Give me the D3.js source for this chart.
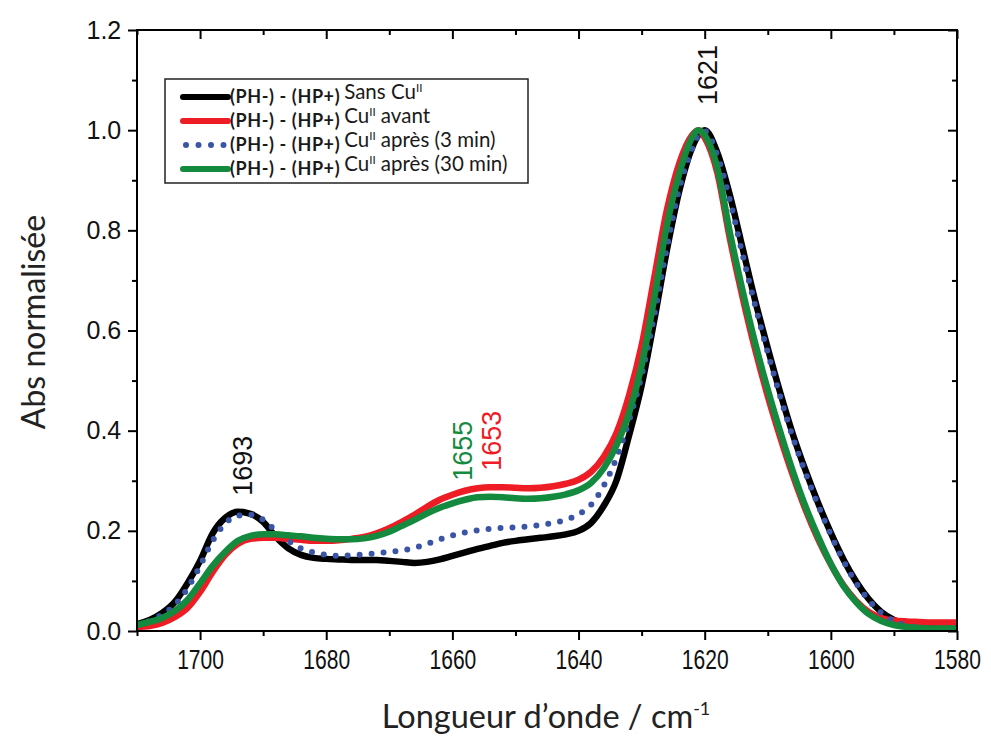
<!DOCTYPE html>
<html>
<head>
<meta charset="utf-8">
<script src="https://cdn.jsdelivr.net/npm/d3@7/dist/d3.min.js"></script>
<style>
  html, body { margin: 0; padding: 0; background: #fff; }
  svg { display: block; }
</style>
</head>
<body>
<svg id="chart" width="991" height="740"></svg>
<script>
// ---------------- DATA ----------------
const wavenumbers = [1710,1708,1706,1704,1702,1700,1698,1696,1694,1692,1690,1688,1686,1684,1682,1680,1678,1676,1674,1672,1670,1668,1666,1664,1662,1660,1658,1656,1654,1652,1650,1648,1646,1644,1642,1640,1638,1636,1634,1632,1630,1628,1626,1624,1622,1621,1620,1618,1616,1614,1612,1610,1608,1606,1604,1602,1600,1598,1596,1594,1592,1590,1588,1586,1584,1582,1580];

const sansCu = [0.014,0.022,0.036,0.058,0.095,0.14,0.195,0.226,0.238,0.234,0.218,0.188,0.165,0.152,0.146,0.144,0.143,0.142,0.142,0.142,0.14,0.138,0.136,0.138,0.143,0.15,0.157,0.164,0.17,0.176,0.18,0.183,0.186,0.189,0.193,0.2,0.216,0.25,0.3,0.39,0.49,0.62,0.76,0.88,0.965,0.99,1.0,0.955,0.87,0.765,0.66,0.565,0.475,0.392,0.32,0.255,0.196,0.143,0.099,0.064,0.038,0.022,0.012,0.008,0.006,0.005,0.005];

const cuAvant = [0.008,0.01,0.016,0.028,0.046,0.078,0.118,0.152,0.174,0.184,0.186,0.186,0.184,0.182,0.18,0.18,0.181,0.184,0.188,0.195,0.205,0.218,0.232,0.248,0.262,0.272,0.28,0.285,0.287,0.287,0.286,0.285,0.286,0.289,0.294,0.302,0.318,0.348,0.395,0.47,0.57,0.705,0.84,0.935,0.99,1.0,0.985,0.915,0.783,0.667,0.562,0.469,0.386,0.31,0.242,0.183,0.133,0.091,0.06,0.038,0.026,0.021,0.019,0.018,0.017,0.017,0.017];

const cuApres3 = [0.012,0.02,0.033,0.052,0.085,0.13,0.18,0.215,0.23,0.232,0.222,0.2,0.18,0.165,0.157,0.152,0.15,0.151,0.153,0.155,0.158,0.161,0.166,0.174,0.183,0.191,0.197,0.201,0.204,0.206,0.207,0.209,0.212,0.216,0.222,0.233,0.252,0.29,0.345,0.42,0.51,0.63,0.765,0.885,0.962,0.99,0.998,0.95,0.86,0.752,0.65,0.556,0.467,0.386,0.315,0.251,0.192,0.14,0.096,0.062,0.036,0.02,0.011,0.007,0.005,0.005,0.005];

const cuApres30 = [0.012,0.018,0.026,0.04,0.062,0.095,0.13,0.158,0.18,0.19,0.193,0.193,0.191,0.189,0.186,0.184,0.183,0.183,0.185,0.19,0.198,0.21,0.222,0.235,0.246,0.255,0.262,0.267,0.268,0.267,0.265,0.264,0.265,0.268,0.273,0.281,0.296,0.325,0.37,0.435,0.53,0.665,0.81,0.915,0.985,1.0,0.99,0.925,0.795,0.68,0.575,0.482,0.397,0.318,0.248,0.188,0.134,0.09,0.058,0.034,0.02,0.012,0.008,0.006,0.005,0.005,0.005];

const seriesNames = ["Sans Cu", "Cu", "Cu", "Cu"];
const seriesSuffix = ["", " avant", " après (3 min)", " après (30 min)"];
const seriesColors = ["#000000", "#ee1c25", "#3b55a6", "#148a3f"];

const xTicksMajor = [1700, 1680, 1660, 1640, 1620, 1600, 1580];
const xTicksMinor = [1710, 1690, 1670, 1650, 1630, 1610, 1590];
const yTicksMajor = [0.0, 0.2, 0.4, 0.6, 0.8, 1.0, 1.2];
const yTicksMinor = [0.1, 0.3, 0.5, 0.7, 0.9, 1.1];

const peakLabels = ["1693", "1655", "1653", "1621"];
const peakLabelWn = [1693.4, 1658.4, 1653.8, 1619.7];
const peakLabelVal = [0.33, 0.36, 0.38, 1.11];
const peakLabelColors = ["#111111", "#148a3f", "#ee1c25", "#111111"];

// ---------------- CHART ----------------
const svg = d3.select("#chart");
const L = 137, R = 957, T = 30, B = 631;

const x = d3.scaleLinear().domain([1710, 1580]).range([L, R]);
const y = d3.scaleLinear().domain([0, 1.2]).range([B, T]);

const allSeries = [sansCu, cuAvant, cuApres3, cuApres30];

svg.append("clipPath").attr("id", "clip")
  .append("rect").attr("x", L).attr("y", T).attr("width", R - L).attr("height", B - T);

const line = d3.line()
  .x((d, i) => x(wavenumbers[i]))
  .y(d => y(d))
  .curve(d3.curveMonotoneX);

const plotG = svg.append("g").attr("clip-path", "url(#clip)");
allSeries.forEach((s, k) => {
  const p = plotG.append("path")
    .attr("d", line(s))
    .attr("fill", "none")
    .attr("stroke", seriesColors[k])
    .attr("stroke-linejoin", "round");
  if (k === 2) {
    p.attr("stroke-width", 6).attr("stroke-dasharray", "0 12").attr("stroke-linecap", "round");
  } else {
    p.attr("stroke-width", 6.5).attr("stroke-linecap", "butt");
  }
});

// Axes
const tickFont = "'Liberation Sans', Arial, sans-serif";

const xBottom = svg.append("g").attr("transform", `translate(0,${B})`)
  .call(d3.axisBottom(x).tickValues(xTicksMajor).tickSize(9).tickSizeOuter(0).tickFormat(d3.format("d")));
const xBottomMinor = svg.append("g").attr("transform", `translate(0,${B})`)
  .call(d3.axisBottom(x).tickValues(xTicksMinor).tickSize(5).tickSizeOuter(0).tickFormat(""));
const xTop = svg.append("g").attr("transform", `translate(0,${T})`)
  .call(d3.axisBottom(x).tickValues(xTicksMajor).tickSize(9).tickSizeOuter(0).tickFormat(""));
const xTopMinor = svg.append("g").attr("transform", `translate(0,${T})`)
  .call(d3.axisBottom(x).tickValues(xTicksMinor).tickSize(5).tickSizeOuter(0).tickFormat(""));

const yLeft = svg.append("g").attr("transform", `translate(${L},0)`)
  .call(d3.axisLeft(y).tickValues(yTicksMajor).tickSize(9).tickSizeOuter(0).tickFormat(d3.format(".1f")));
const yLeftMinor = svg.append("g").attr("transform", `translate(${L},0)`)
  .call(d3.axisLeft(y).tickValues(yTicksMinor).tickSize(5).tickSizeOuter(0).tickFormat(""));
const yRight = svg.append("g").attr("transform", `translate(${R},0)`)
  .call(d3.axisLeft(y).tickValues(yTicksMajor).tickSize(9).tickSizeOuter(0).tickFormat(""));
const yRightMinor = svg.append("g").attr("transform", `translate(${R},0)`)
  .call(d3.axisLeft(y).tickValues(yTicksMinor).tickSize(5).tickSizeOuter(0).tickFormat(""));

[xBottom, xBottomMinor, xTop, xTopMinor, yLeft, yLeftMinor, yRight, yRightMinor].forEach(g => {
  g.select(".domain").remove();
  g.selectAll(".tick line").attr("stroke", "#000").attr("stroke-width", 2);
});

xBottom.selectAll(".tick text")
  .attr("font-family", tickFont).attr("font-size", 27).attr("fill", "#111")
  .attr("dy", "0.95em").attr("transform", "scale(0.78,1)");
yLeft.selectAll(".tick text")
  .attr("font-family", tickFont).attr("font-size", 25).attr("fill", "#111").attr("dx", "-0.15em");

// frame
svg.append("rect").attr("x", L).attr("y", T).attr("width", R - L).attr("height", B - T)
  .attr("fill", "none").attr("stroke", "#000").attr("stroke-width", 2);

// Axis titles
const titleFont = "Lato, 'Open Sans', sans-serif";
svg.append("text")
  .attr("transform", `translate(45,322) rotate(-90)`)
  .attr("text-anchor", "middle")
  .attr("font-family", titleFont).attr("font-size", 32).attr("fill", "#222")
  .text("Abs normalisée");

const xt = svg.append("text")
  .attr("x", 546).attr("y", 728)
  .attr("text-anchor", "middle")
  .attr("font-family", titleFont).attr("font-size", 32.5).attr("fill", "#222");
xt.append("tspan").text("Longueur d\u2019onde / cm");
xt.append("tspan").attr("font-size", 18).attr("dy", -13).text("-1");

// Peak labels
peakLabels.forEach((t, i) => {
  svg.append("text")
    .attr("transform", `translate(${x(peakLabelWn[i]) + 10},${y(peakLabelVal[i])}) rotate(-90)`)
    .attr("text-anchor", "middle")
    .attr("font-family", tickFont).attr("font-size", 27)
    .attr("fill", peakLabelColors[i])
    .text(t);
});

// Legend
const lg = svg.append("g");
lg.append("rect").attr("x", 165).attr("y", 79).attr("width", 363).attr("height", 104)
  .attr("fill", "#fff").attr("stroke", "#222").attr("stroke-width", 1.5);
const legendFont = "Lato, 'Open Sans', sans-serif";
allSeries.forEach((s, k) => {
  const yy = 97 + k * 24;
  const ln = lg.append("line").attr("x1", 183).attr("x2", 228).attr("y1", yy).attr("y2", yy)
    .attr("stroke", seriesColors[k]).attr("stroke-width", 6);
  if (k === 2) ln.attr("stroke-dasharray", "0 12.5").attr("stroke-linecap", "round").attr("x1", 186);
  else ln.attr("stroke-linecap", "round");
  const tx = lg.append("text").attr("x", 230).attr("y", yy + 6)
    .attr("font-family", legendFont).attr("fill", "#1a1a1a");
  tx.append("tspan").attr("font-weight", "bold").attr("font-size", 18).attr("letter-spacing", 0.6).text("(PH-) - (HP+)");
  tx.append("tspan").attr("font-size", 20.5).attr("dx", 4).attr("dy", -4).text(seriesNames[k]);
  tx.append("tspan").attr("font-size", 11.5).attr("dy", -7).text("II");
  tx.append("tspan").attr("font-size", 20.5).attr("dy", 7).text(seriesSuffix[k]);
});
</script>
</body>
</html>
